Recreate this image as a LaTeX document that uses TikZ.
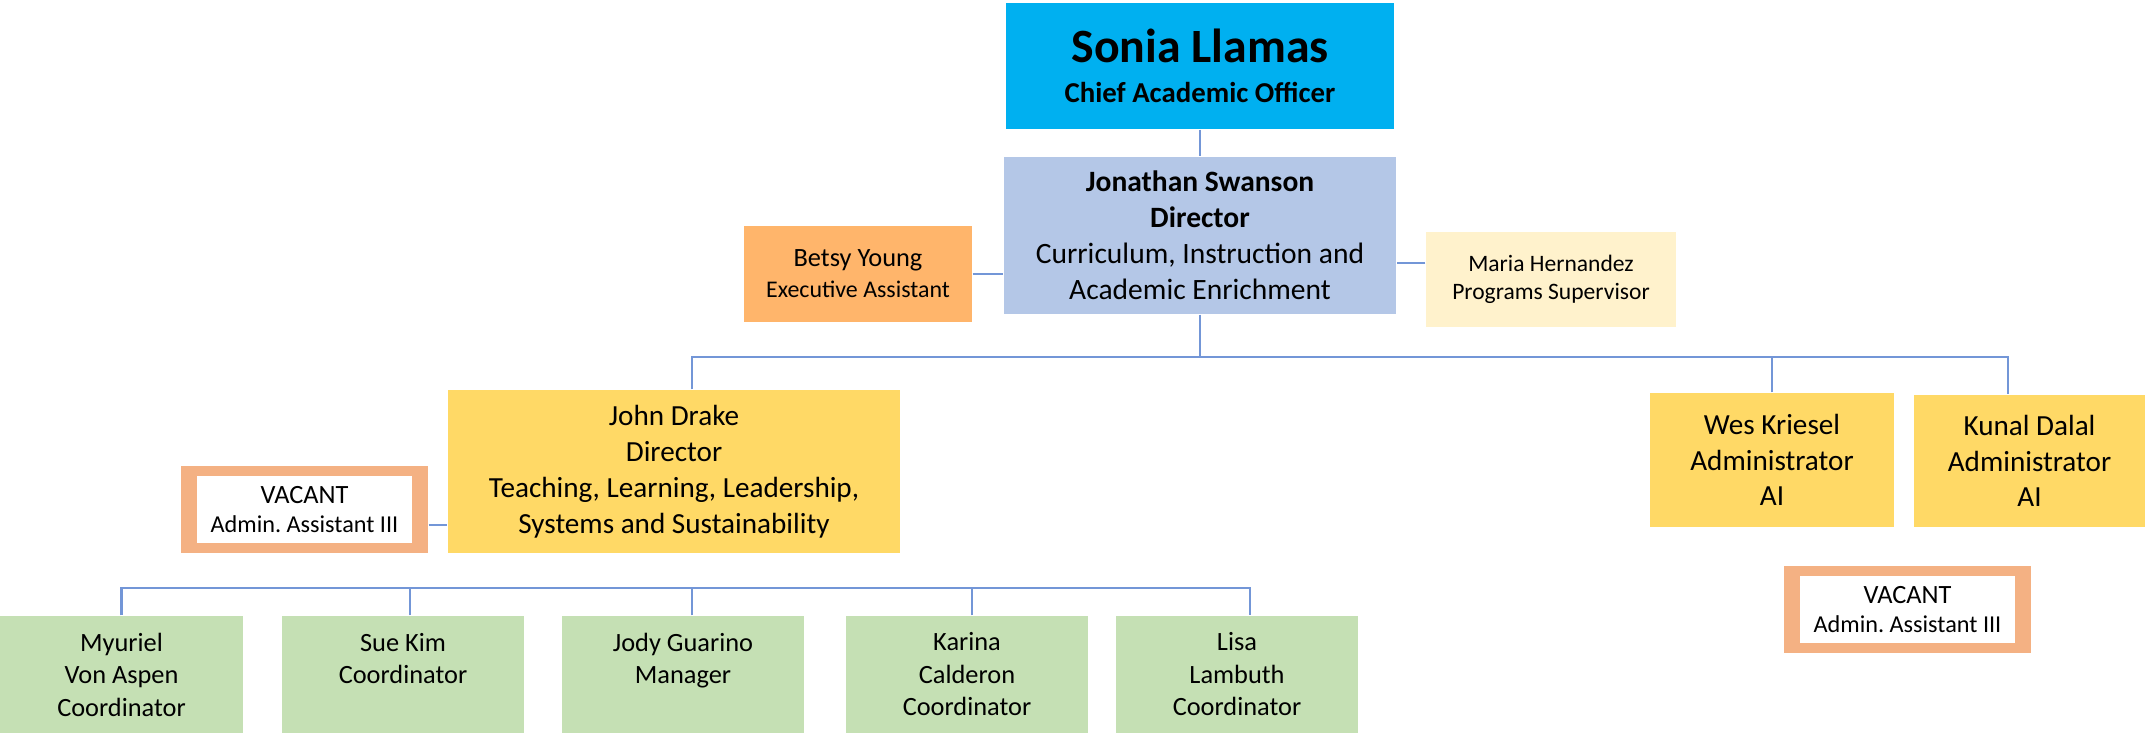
\documentclass[tikz,border=0pt]{standalone}
\usepackage{fontspec}
\setmainfont{Carlito}

\definecolor{ceoblue}{HTML}{00B0F0}
\definecolor{dirblue}{HTML}{B4C7E7}
\definecolor{asstorange}{HTML}{FFB56B}
\definecolor{supcream}{HTML}{FFF2CC}
\definecolor{admgold}{HTML}{FFD966}
\definecolor{vacantrim}{HTML}{F4B183}
\definecolor{staffgreen}{HTML}{C5E0B4}
\definecolor{linkblue}{RGB}{115,150,215}

\begin{document}
\begin{tikzpicture}[
	box/.style = {rectangle, inner sep = 0pt, align = center, text = black},
	link/.style = {draw = linkblue, line width = 0.6pt},
	goldbox/.style = {box, fill = admgold},
	vacantbox/.style = {box, fill = vacantrim, minimum width = 2.47cm, minimum height = 0.87cm,
		font = \fontsize{6.9}{8.5}\selectfont,
		path picture = {\fill [white] ([shift={(0.16,0.10)}]path picture bounding box.south west) rectangle ([shift={(-0.16,-0.10)}]path picture bounding box.north east);}},
	staffbox/.style = {box, fill = staffgreen, minimum width = 2.42cm, minimum height = 1.17cm,
		font = \fontsize{7.5}{9.25}\selectfont}
]

	\useasboundingbox (0, 0) rectangle (21.45, 7.33);

	% Top of the chart

	\node [box, fill = ceoblue, minimum width = 3.88cm, minimum height = 1.26cm,
		font = \bfseries\fontsize{8.2}{11.4}\selectfont] (sonia) at (12.00, 6.67)
		{{\fontsize{13.6}{16}\selectfont Sonia Llamas}\\Chief Academic Officer};

	\node [box, fill = dirblue, minimum width = 3.92cm, minimum height = 1.57cm,
		font = \fontsize{8.4}{10.2}\selectfont] (jonathan) at (12.00, 4.975)
		{\textbf{Jonathan Swanson}\\\textbf{Director}\\Curriculum, Instruction and\\Academic Enrichment};

	\node [box, fill = asstorange, minimum width = 2.28cm, minimum height = 0.96cm,
		font = \fontsize{6.8}{8.8}\selectfont] (betsy) at (8.58, 4.59)
		{{\fontsize{7.5}{9}\selectfont Betsy Young}\\Executive Assistant};

	\node [box, fill = supcream, minimum width = 2.50cm, minimum height = 0.95cm,
		font = \fontsize{6.7}{8}\selectfont] (maria) at (15.51, 4.535)
		{Maria Hernandez\\Programs Supervisor};

	\draw [link] (sonia) -- (jonathan);
	\draw [link] (betsy.east) -- (betsy.east -| jonathan.west);
	\draw [link] ([yshift=1.65mm]maria.west) -- ([yshift=1.65mm]maria.west -| jonathan.east);

	% Middle row

	\node [goldbox, minimum width = 4.52cm, minimum height = 1.63cm,
		font = \fontsize{8.3}{10.2}\selectfont] (john) at (6.74, 2.615)
		{John Drake\\Director\\Teaching, Learning, Leadership,\\Systems and Sustainability};

	\node [goldbox, minimum width = 2.44cm, minimum height = 1.34cm,
		font = \fontsize{8.3}{10.2}\selectfont] (wes) at (17.72, 2.73)
		{Wes Kriesel\\Administrator\\AI};

	\node [goldbox, minimum width = 2.31cm, minimum height = 1.32cm,
		font = \fontsize{8.3}{10.2}\selectfont] (kunal) at (20.295, 2.72)
		{Kunal Dalal\\Administrator\\AI};

	\node [vacantbox] (vacanta) at (3.045, 2.235)
		{{\fontsize{7.5}{9}\selectfont VACANT}\\Admin.\ Assistant III};

	\node [vacantbox] (vacantb) at (19.075, 1.235)
		{{\fontsize{7.5}{9}\selectfont VACANT}\\Admin.\ Assistant III};

	\coordinate (topbus) at (12.00, 3.76);

	\draw [link] (jonathan) -- (topbus);
	\draw [link] ([xshift=1.8mm]john.north) |- ([xshift=-2.15mm]kunal.north |- topbus) -- ([xshift=-2.15mm]kunal.north);
	\draw [link] (wes) -- (wes |- topbus);
	\draw [link] ([yshift=-1.55mm]vacanta.east) -- ([yshift=-1.55mm]vacanta.east -| john.west);

	% Bottom row

	\foreach \id/\x/\who in {myuriel/1.215/{Myuriel\\Von Aspen\\Coordinator},
			suekim/4.03/{Sue Kim\\Coordinator\\\mbox{}},
			jody/6.83/{Jody Guarino\\Manager\\\mbox{}},
			karina/9.67/{Karina\\Calderon\\Coordinator},
			lisa/12.37/{Lisa\\Lambuth\\Coordinator}}
		\node [staffbox] (\id) at (\x, 0.585) {\who};

	\coordinate (lowbus) at (6.92, 1.45);

	\draw [link] (myuriel.north) |- ([xshift=1.3mm]lisa.north |- lowbus) -- ([xshift=1.3mm]lisa.north);

	\foreach \id/\dx in {suekim/0.7mm, jody/0.9mm, karina/0.5mm}
		\draw [link] ([xshift=\dx]\id.north) -- ([xshift=\dx]\id.north |- lowbus);

\end{tikzpicture}
\end{document}
